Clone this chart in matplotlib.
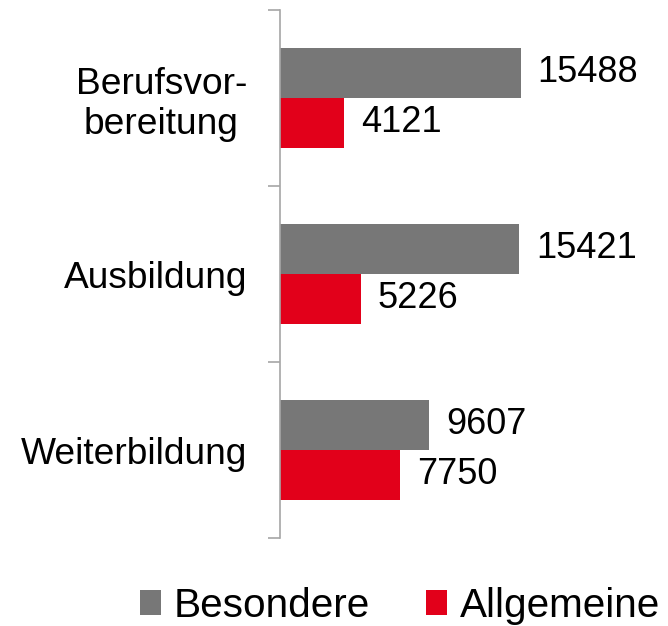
import matplotlib
matplotlib.use("Agg")
import matplotlib.pyplot as plt
from matplotlib.patches import Patch
import numpy as np

categories = ["Berufsvor-\nbereitung", "Ausbildung", "Weiterbildung"]
besondere = [15488, 15421, 9607]
allgemeine = [4121, 5226, 7750]
series_names = ["Besondere", "Allgemeine"]
colors = ["#777777", "#E2001A"]

plt.rcParams['font.family'] = ['Liberation Sans', 'DejaVu Sans']

W, H = 668, 626
fig = plt.figure(figsize=(W / 100, H / 100), dpi=100)
left_px, right_px, top_px, bottom_px = 280, 660, 10, 538
ax = fig.add_axes([left_px / W, 1 - bottom_px / H, (right_px - left_px) / W, (bottom_px - top_px) / H])

scale = 240.5 / 15488  # px per unit
ax.set_xlim(0, (right_px - left_px) / scale)
ax.set_ylim(2.5, -0.5)

y = np.arange(len(categories))
h = 50 / 176
b1 = ax.barh(y - h / 2, besondere, height=h, color=colors[0])
b2 = ax.barh(y + h / 2, allgemeine, height=h, color=colors[1])

for bars, vals in ((b1, besondere), (b2, allgemeine)):
    for rect, v in zip(bars, vals):
        ax.annotate(str(v), (rect.get_width(), rect.get_y() + rect.get_height() / 2),
                    xytext=(12, 0), textcoords="offset points", va="center", ha="left",
                    fontsize=26, color="black")

for s in ["top", "right", "bottom"]:
    ax.spines[s].set_visible(False)
ax.spines["left"].set_color("#A6A6A6")
ax.spines["left"].set_linewidth(1.2)
ax.set_xticks([])
ax.set_yticks(y)
ax.set_yticklabels(categories, fontsize=26.7, multialignment="center", linespacing=1.18)
ax.tick_params(axis="y", which="major", length=0, pad=23.8)
ax.set_yticks([-0.5, 0.5, 1.5, 2.5], minor=True)
ax.tick_params(axis="y", which="minor", length=8.6, width=1.2, color="#A6A6A6")

handles = [Patch(facecolor=c, edgecolor="none") for c in colors]
fig.legend(handles, series_names, loc="center", bbox_to_anchor=(400 / W, 1 - 606 / H),
           ncol=2, frameon=False, fontsize=29.2, handlelength=0.52, handleheight=0.55,
           handletextpad=0.3, columnspacing=1.4)

fig.savefig("out.png", dpi=100)
